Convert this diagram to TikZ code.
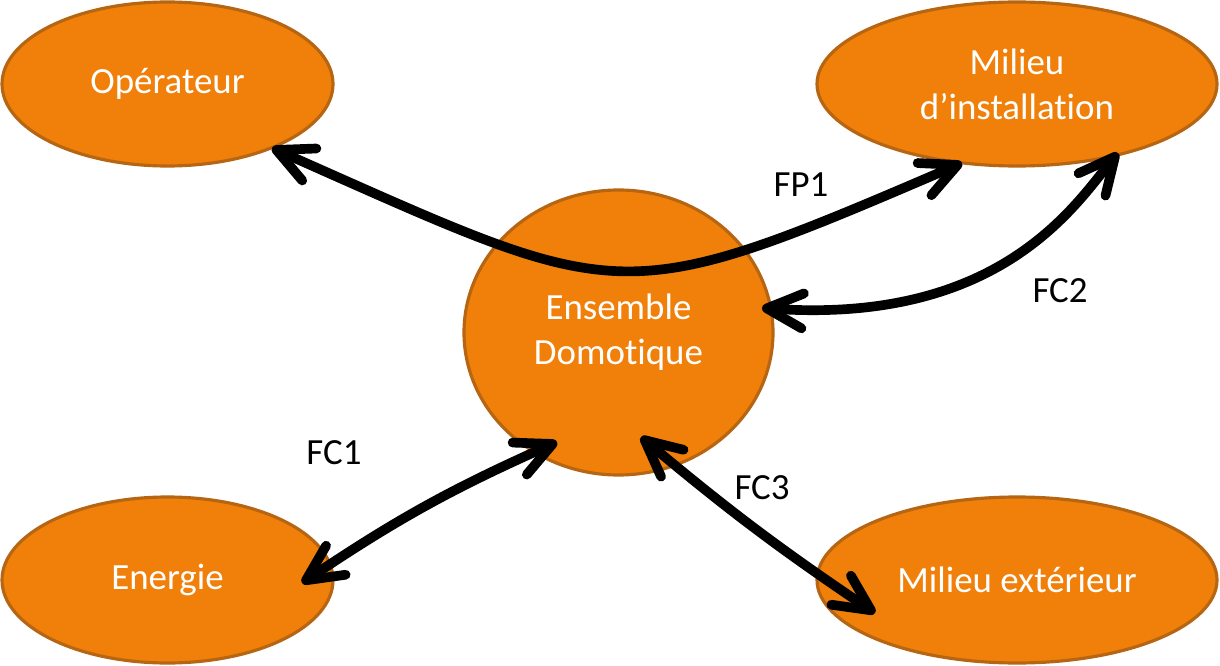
\documentclass[tikz,border=0pt]{standalone}
\usepackage{fontspec}
\setmainfont{Carlito}[Ligatures=NoCommon]
\usetikzlibrary{shapes.geometric, arrows.meta, calc}

\definecolor{orangefond}{RGB}{240,128,10}
\definecolor{orangebord}{RGB}{182,101,18}

\begin{document}
\begin{tikzpicture}[
  font=\fontsize{21}{25.6}\selectfont,
  bloc/.style={ellipse, draw=orangebord, line width=1.8pt, fill=orangefond, text=white, inner sep=0pt, align=center},
  fleche/.style={line width=5.5pt, {Straight Barb[length=7.2mm,width=7mm,round]}-{Straight Barb[length=7.2mm,width=7mm,round]}}
]
%\draw[step=1cm,gray,very thin] (0,0) grid (24.4,13.3);

\useasboundingbox (0,0) rectangle (24.4,13.3);

\node[bloc, minimum width=6.62cm, minimum height=3.28cm] (op) at (3.35,11.62) {Opérateur};

\node[bloc, minimum width=8cm, minimum height=3.28cm] (mi) at (20.34,11.62) {Milieu\\d’installation};

\node[bloc, minimum width=6.18cm, minimum height=5.7cm] (ed) at (12.37,6.65) {Ensemble\\Domotique};

\node[bloc, minimum width=6.62cm, minimum height=3.32cm] (en) at (3.35,1.7) {Energie};

\node[bloc, minimum width=8cm, minimum height=3.32cm] (me) at (20.34,1.7) {Milieu extérieur};

\draw[fleche] ($(op)+(2.09,-1.28)$) .. controls +(7.06,-3.12) and +(-6.98,-3) .. ($(mi)+(-1.1,-1.58)$);

\node (fp1) at (16.02,9.6) {FP1};

\draw[fleche] ($(ed)+(2.87,0.49)$) .. controls +(4.76,-0.34) and +(-0.86,-1.04) .. ($(mi)+(2.02,-1.38)$);

\node (fc2) at (21.2,7.48) {FC2};

\draw[fleche] ($(en)+(2.69,-0.06)$) to[bend left=5] ($(ed)+(-1.23,-2.19)$);

\node (fc1) at (6.68,4.24) {FC1};

\draw[fleche] ($(ed)+(0.45,-2.09)$) to[bend right=3] ($(me)+(-2.84,-0.66)$);

\node (fc3) at (15.24,3.54) {FC3};

\end{tikzpicture}
\end{document}
